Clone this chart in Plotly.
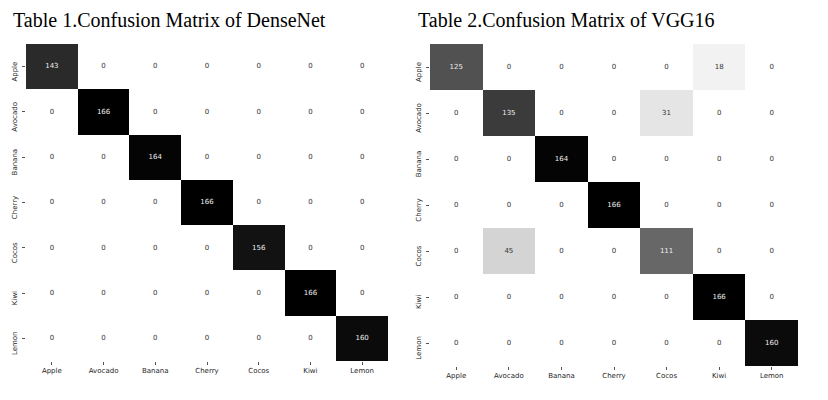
import plotly.graph_objects as go

classes = ["Apple", "Avocado", "Banana", "Cherry", "Cocos", "Kiwi", "Lemon"]

densenet = [
    [143, 0, 0, 0, 0, 0, 0],
    [0, 166, 0, 0, 0, 0, 0],
    [0, 0, 164, 0, 0, 0, 0],
    [0, 0, 0, 166, 0, 0, 0],
    [0, 0, 0, 0, 156, 0, 0],
    [0, 0, 0, 0, 0, 166, 0],
    [0, 0, 0, 0, 0, 0, 160],
]

vgg16 = [
    [125, 0, 0, 0, 0, 18, 0],
    [0, 135, 0, 0, 31, 0, 0],
    [0, 0, 164, 0, 0, 0, 0],
    [0, 0, 0, 166, 0, 0, 0],
    [0, 45, 0, 0, 111, 0, 0],
    [0, 0, 0, 0, 0, 166, 0],
    [0, 0, 0, 0, 0, 0, 160],
]

titles = ["Table 1.Confusion Matrix of DenseNet", "Table 2.Confusion Matrix of VGG16"]

greys = [
    [0.0, "#ffffff"], [0.125, "#f0f0f0"], [0.25, "#d9d9d9"], [0.375, "#bdbdbd"],
    [0.5, "#969696"], [0.625, "#737373"], [0.75, "#525252"], [0.875, "#252525"],
    [1.0, "#000000"],
]

# page body has an 8px margin, so the figure is sized/positioned to compensate
OFF = 8
W, H = 828 - OFF, 400 - OFF
panels = [
    dict(x0=26, x1=388, y0=44, y1=361, tx=12),
    dict(x0=430, x1=798, y0=44, y1=366, tx=417),
]

fig = go.Figure()
for i, (mat, p) in enumerate(zip([densenet, vgg16], panels)):
    n = "" if i == 0 else str(i + 1)
    zmax = max(max(r) for r in mat)
    fig.add_trace(go.Heatmap(
        z=mat, x=classes, y=classes,
        colorscale=greys, zmin=0, zmax=zmax, showscale=False,
        xaxis="x" + n, yaxis="y" + n, hoverinfo="skip",
    ))
    xs, ys, ts, cs = [], [], [], []
    for r, row in enumerate(mat):
        for c, v in enumerate(row):
            xs.append(classes[c])
            ys.append(classes[r])
            ts.append(str(v))
            cs.append("#eeeeee" if v / zmax > 0.5 else "#333333")
    fig.add_trace(go.Scatter(
        x=xs, y=ys, text=ts, mode="text",
        textfont=dict(size=7, family="DejaVu Sans", color=cs),
        xaxis="x" + n, yaxis="y" + n, hoverinfo="skip", showlegend=False,
    ))
    axfont = dict(size=7, family="DejaVu Sans", color="#262626")
    fig.update_layout(**{
        "xaxis" + n: dict(domain=[(p["x0"] - OFF) / W, (p["x1"] - OFF) / W], anchor="y" + n,
                          showgrid=False, zeroline=False, showline=False,
                          ticks="outside", ticklen=3, tickcolor="#555", tickwidth=0.8,
                          tickfont=axfont, tickangle=0),
        "yaxis" + n: dict(domain=[1 - (p["y1"] - OFF) / H, 1 - (p["y0"] - OFF) / H], anchor="x" + n,
                          autorange="reversed", showgrid=False, zeroline=False, showline=False,
                          ticks="outside", ticklen=3, tickcolor="#555", tickwidth=0.8,
                          tickfont=axfont, tickangle=-90,
                          ticklabelstandoff=2, ticklabelshift=-6),
    })
    fig.add_annotation(text=titles[i], xref="paper", yref="paper",
                       x=(p["tx"] - OFF) / W, y=1, xanchor="left", yanchor="top",
                       showarrow=False, borderpad=0,
                       font=dict(family="Liberation Serif", size=20, color="#000000"))

fig.update_layout(width=W, height=H, margin=dict(l=0, r=0, t=0, b=0),
                  paper_bgcolor="white", plot_bgcolor="white")
fig.write_html("out.html")
